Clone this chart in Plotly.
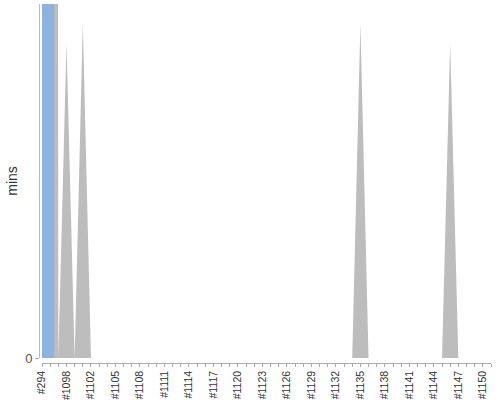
import plotly.graph_objects as go

# builds on the x axis (only every 3rd one gets a label)
builds = ["#294", "#1096", "#1097", "#1098", "#1099", "#1101"] + ["#%d" % n for n in range(1102, 1152)]

# build duration in mins, split by result
success_mins = [100, 100] + [0] * (len(builds) - 2)
aborted_mins = [0] * len(builds)
aborted_mins[1] = 600
aborted_mins[3] = 17.8
aborted_mins[5] = 18.9
aborted_mins[builds.index("#1135")] = 18.9
aborted_mins[builds.index("#1146")] = 17.8

y_max = 20

fig = go.Figure()
fig.add_trace(go.Scatter(x=builds, y=aborted_mins, mode="lines", fill="tozeroy",
                         line=dict(width=0), fillcolor="#bdbdbd", hoverinfo="skip"))
fig.add_trace(go.Scatter(x=builds, y=success_mins, mode="lines", fill="tozeroy",
                         line=dict(width=0, shape="hvh"), fillcolor="#8fb3df", hoverinfo="skip"))

labels = [b if i % 3 == 0 else "" for i, b in enumerate(builds)]

fig.update_layout(
    width=500, height=400,
    margin=dict(l=0, r=0, t=0, b=0, autoexpand=False),
    paper_bgcolor="white", plot_bgcolor="white",
    showlegend=False,
    font=dict(family="Liberation Sans, Arial, sans-serif", color="#333"),
    xaxis=dict(
        type="category", range=[0, len(builds) - 1],
        domain=[42 / 500, 491 / 500], anchor="free", position=(400 - 362.7) / 400,
        tickvals=builds, ticktext=labels, tickangle=-90,
        tickfont=dict(size=10.5, color="#333"),
        ticks="outside", ticklen=3, tickcolor="#aaa",
        showline=True, linecolor="#aaa", linewidth=1,
        showgrid=False, zeroline=False, automargin=False,
    ),
    yaxis=dict(
        range=[0, y_max],
        domain=[1 - 358 / 400, 1 - 4 / 400], anchor="free", position=39 / 500,
        tickvals=[0], ticktext=["0"],
        tickfont=dict(size=13, color="#555"),
        ticks="outside", ticklen=4, tickcolor="#aaa",
        showline=True, linecolor="#bbb", linewidth=1,
        showgrid=False, zeroline=False, automargin=False,
        title=dict(text="mins", font=dict(size=14, color="#333"), standoff=3),
    ),
)

# page has a default 8px body margin; drop it so the chart sits at the top-left
fig.write_html("out.html", config={"displayModeBar": False},
               post_script="document.body.style.margin='0';")
